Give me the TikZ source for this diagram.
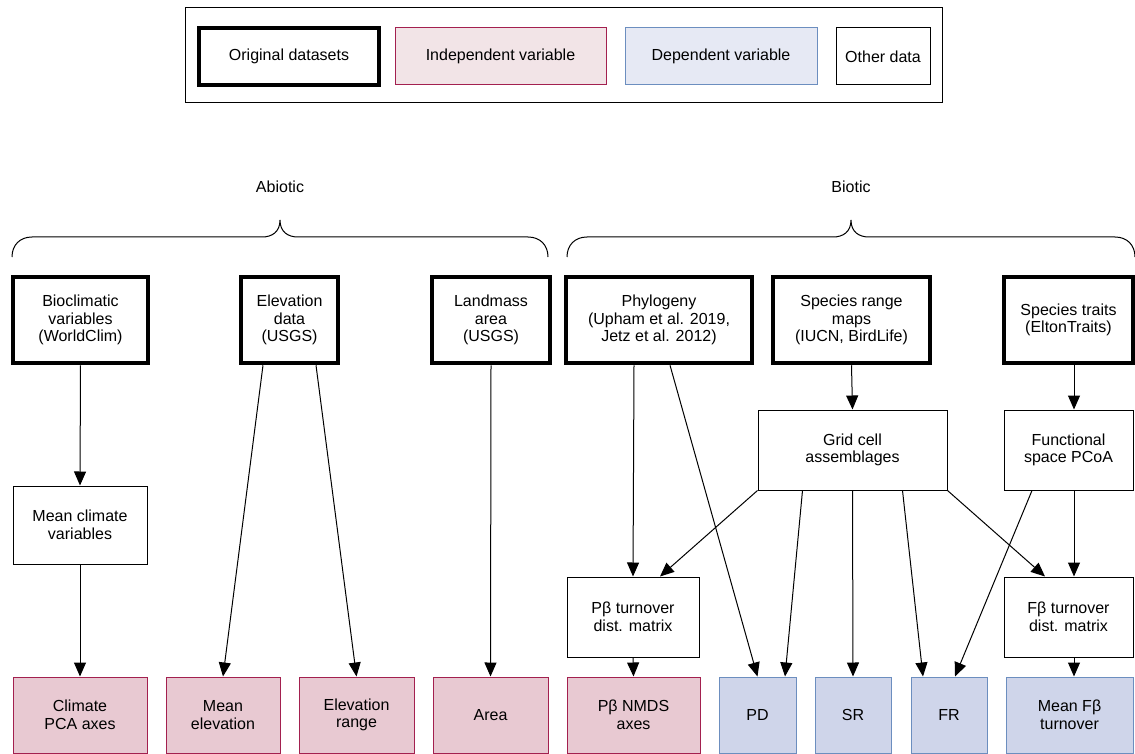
\documentclass[tikz,border=0pt]{standalone}
\usepackage{fontspec}
\setmainfont{Liberation Sans}
\usetikzlibrary{arrows.meta}

\definecolor{indepline}{HTML}{A3204F}
\definecolor{indepfill}{HTML}{E8C9D2}
\definecolor{indeplegend}{HTML}{F2E4E7}
\definecolor{depline}{HTML}{6C8EBF}
\definecolor{depfill}{HTML}{CFD5EA}
\definecolor{deplegend}{HTML}{E6E9F4}

\tikzset{
  box/.style={draw, line width=1pt, align=center, inner sep=2pt,
    font=\fontsize{16}{17.5}\selectfont},
  orig/.style={box, line width=4.5pt},
  indep/.style={box, draw=indepline, fill=indepfill},
  dep/.style={box, draw=depline, fill=depfill},
  link/.style={line width=1pt, -{Triangle[length=14pt,width=12pt]}},
}

\begin{document}
\begin{tikzpicture}[x=1pt, y=-1pt]
  \useasboundingbox (0,0) rectangle (1135,754);

  % legend frame with its four sample boxes
  \node[box, minimum width=757, minimum height=95] (legend) at (563.5,55.5) {};
  \node[orig, minimum width=180, minimum height=57] (keyorig) at (289,56.5) {Original datasets};
  \node[indep, fill=indeplegend, minimum width=211, minimum height=57] (keyindep) at (500.5,56.5) {Independent variable};
  \node[dep, fill=deplegend, minimum width=192, minimum height=57] (keydep) at (721,56.5) {Dependent variable};
  \node[box, minimum width=94, minimum height=57] (keyother) at (883,56.5) {Other data};

  % group titles and their curly brackets
  \node[font=\fontsize{16}{17.5}\selectfont] (abiotic) at (280,187) {Abiotic};
  \node[font=\fontsize{16}{17.5}\selectfont] (biotic) at (851,187) {Biotic};
  \draw[line width=1pt] (12,257) .. controls (12,245) and (20,237) .. (32,237) -- (262,237)
    .. controls (272,237) and (280,232) .. (280,220)
    .. controls (280,232) and (288,237) .. (298,237) -- (528,237)
    .. controls (540,237) and (548,245) .. (548,257);
  \draw[line width=1pt] (567,257) .. controls (567,245) and (575,237) .. (587,237) -- (833,237)
    .. controls (843,237) and (851,232) .. (851,220)
    .. controls (851,232) and (859,237) .. (869,237) -- (1115,237)
    .. controls (1127,237) and (1135,245) .. (1135,257);

  % top row: original datasets
  \node[orig, minimum width=135, minimum height=86] (bioclim) at (80.5,320) {Bioclimatic\\variables\\(WorldClim)};
  \node[orig, minimum width=97, minimum height=86] (elev) at (289.5,320) {Elevation\\data\\(USGS)};
  \node[orig, minimum width=118, minimum height=86] (landmass) at (491,320) {Landmass\\area\\(USGS)};
  \node[orig, minimum width=186, minimum height=86] (phylo) at (659,320) {Phylogeny\\(Upham et al. 2019,\\Jetz et al. 2012)};
  \node[orig, minimum width=157, minimum height=86] (range) at (851.5,320) {Species range\\maps\\(IUCN, BirdLife)};
  \node[orig, minimum width=129, minimum height=86] (traits) at (1068.5,320) {Species traits\\(EltonTraits)};

  % intermediate data
  \node[box, minimum width=134, minimum height=78] (meanclim) at (80,525) {Mean climate\\variables};
  \node[box, minimum width=189, minimum height=80] (grid) at (852.5,450) {Grid cell\\assemblages};
  \node[box, minimum width=129, minimum height=80] (func) at (1068.5,450) {Functional\\space PCoA};
  \node[box, minimum width=132, minimum height=80] (pbt) at (633,617) {Pβ turnover\\dist. matrix};
  \node[box, minimum width=129, minimum height=80] (fbt) at (1068.5,617) {Fβ turnover\\dist. matrix};

  % bottom row: independent and dependent variables
  \node[indep, minimum width=134, minimum height=76] (climpca) at (80,715) {Climate\\PCA axes};
  \node[indep, minimum width=114, minimum height=76] (meanelev) at (223,715) {Mean\\elevation};
  \node[indep, minimum width=115, minimum height=76] (elevrange) at (356.5,715) {Elevation\\range};
  \node[indep, minimum width=115, minimum height=76] (area) at (490.5,715) {Area};
  \node[indep, minimum width=133, minimum height=76] (pnmds) at (633.5,715) {Pβ NMDS\\axes};
  \node[dep, minimum width=77, minimum height=76] (pd) at (757.5,715) {PD};
  \node[dep, minimum width=76, minimum height=76] (sr) at (853,715) {SR};
  \node[dep, minimum width=76, minimum height=76] (fr) at (949,715) {FR};
  \node[dep, minimum width=127, minimum height=76] (meanfb) at (1069.5,715) {Mean Fβ\\turnover};

  % abiotic arrows
  \draw[link] (bioclim.south) -- (meanclim.north);
  \draw[link] (meanclim.south) -- (climpca.north);
  \draw[link] ([xshift=-26.5]elev.south) -- (meanelev.north);
  \draw[link] ([xshift=26.5]elev.south) -- (elevrange.north);
  \draw[link] (landmass.south) -- (area.north);

  % biotic arrows
  \draw[link] ([xshift=-25]phylo.south) -- (pbt.north);
  \draw[link] ([xshift=11]phylo.south) -- (pd.north);
  \draw[link] (range.south) -- (grid.north);
  \draw[link] ([xshift=5.5]traits.south) -- ([xshift=5.5]func.north);
  \draw[link] (grid.south west) -- ([xshift=27]pbt.north);
  \draw[link] ([xshift=-50]grid.south) -- ([xshift=27.5]pd.north);
  \draw[link] (grid.south) -- (sr.north);
  \draw[link] ([xshift=50]grid.south) -- ([xshift=-26]fr.north);
  \draw[link] (grid.south east) -- ([xshift=-23.5]fbt.north);
  \draw[link] ([xshift=-36.5]func.south) -- ([xshift=6]fr.north);
  \draw[link] ([xshift=5.5]func.south) -- ([xshift=5.5]fbt.north);
  \draw[link] (pbt.south) -- (pnmds.north);
  \draw[link] ([xshift=5.5]fbt.south) -- ([xshift=4.5]meanfb.north);
\end{tikzpicture}
\end{document}
